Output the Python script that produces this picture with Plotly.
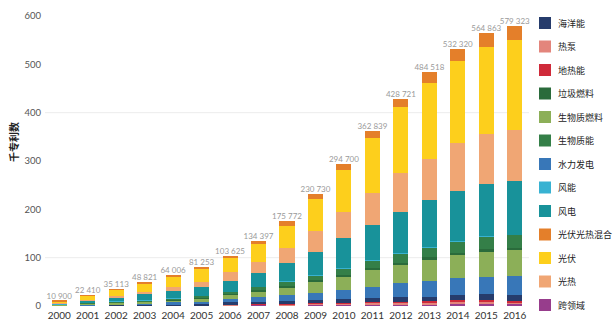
import plotly.graph_objects as go

# Years on the x axis
years = [str(y) for y in range(2000, 2017)]

# Patent counts per technology, in thousands (stacked bottom to top)
cross_domain = [0.15, 0.3, 0.5, 0.6, 0.8, 0.8, 1.6, 2.2, 2.0, 2.8, 2.8, 3.6, 3.6, 4.0, 4.8, 4.8, 4.4]
heat_pump = [0.12, 0.25, 0.35, 0.45, 0.6, 0.6, 1.2, 1.6, 1.5, 2.1, 2.1, 2.7, 2.7, 3.0, 3.6, 3.6, 3.3]
geothermal = [0.13, 0.25, 0.35, 0.45, 0.6, 0.6, 1.2, 1.7, 1.5, 2.1, 2.1, 2.7, 2.7, 3.0, 3.6, 3.6, 3.3]
ocean = [0.3, 0.7, 1.0, 1.5, 2.0, 2.0, 3.6, 3.5, 4.5, 5.5, 7.0, 7.0, 9.0, 9.0, 10.0, 12.0, 12.0]
hydro = [0.6, 1.2, 1.8, 2.5, 3.6, 5.0, 6.0, 10.0, 13.5, 15.0, 19.0, 24.0, 29.0, 33.0, 36.0, 36.0, 40.0]
biofuel = [1.3, 1.6, 2.5, 3.5, 4.8, 7.0, 11.0, 12.0, 16.0, 24.0, 28.0, 34.5, 38.0, 45.0, 48.0, 52.0, 52.0]
waste_fuel = [0.3, 0.4, 0.5, 0.5, 0.6, 0.8, 0.8, 1.5, 2.0, 2.0, 3.0, 3.5, 4.0, 4.0, 4.5, 5.0, 5.0]
biomass = [1.2, 1.8, 2.5, 2.9, 3.0, 4.2, 4.2, 7.5, 10.0, 10.0, 14.0, 17.0, 20.0, 20.0, 23.5, 26.0, 27.0]
wind_energy = [0.05, 0.1, 0.1, 0.1, 0.2, 0.2, 0.3, 0.3, 0.4, 0.5, 0.6, 0.7, 0.8, 0.8, 0.8, 0.9, 0.9]
wind_power = [1.95, 4.9, 8.9, 13.5, 15.5, 18.8, 22.7, 27.3, 36.6, 48.0, 61.4, 72.0, 85.2, 97.2, 103.2, 109.1, 111.1]
solar_thermal = [1.2, 1.5, 3.0, 4.0, 8.3, 10.0, 18.5, 24.0, 32.0, 43.5, 55.0, 67.0, 80.0, 86.0, 99.0, 103.0, 105.0]
photovoltaic = [3.0, 8.51, 12.513, 17.021, 19.006, 26.253, 27.525, 35.797, 45.772, 65.23, 85.7, 113.639,
                135.721, 156.518, 169.32, 180.863, 186.323]
pv_thermal = [0.6, 0.9, 1.1, 1.8, 5.0, 5.0, 5.0, 7.0, 10.0, 10.0, 14.0, 14.5, 18.0, 23.0, 26.0, 28.0, 29.0]

# Axis ticks and the two visible grid lines
y_ticks = [0, 100, 200, 300, 400, 500, 600]
grid_lines = [100, 400]

# (name, values, colour) in stacking order, bottom first
stack = [
    ("跨领域", cross_domain, "#973d8c"),
    ("热泵", heat_pump, "#e3857c"),
    ("地热能", geothermal, "#cf2a3a"),
    ("海洋能", ocean, "#263c6c"),
    ("水力发电", hydro, "#3877b8"),
    ("生物质燃料", biofuel, "#8caf58"),
    ("垃圾燃料", waste_fuel, "#2a6b3b"),
    ("生物质能", biomass, "#347f48"),
    ("风能", wind_energy, "#38b2d2"),
    ("风电", wind_power, "#18929a"),
    ("光热", solar_thermal, "#f0a674"),
    ("光伏", photovoltaic, "#fdcf1c"),
    ("光伏光热混合", pv_thermal, "#e47f2a"),
]

# Legend order, top to bottom
legend_order = ["海洋能", "热泵", "地热能", "垃圾燃料", "生物质燃料", "生物质能", "水力发电",
                "风能", "风电", "光伏光热混合", "光伏", "光热", "跨领域"]

fig = go.Figure()
for name, vals, col in stack:
    fig.add_trace(go.Bar(x=years, y=vals, name=name, marker=dict(color=col, line=dict(width=0)),
                         showlegend=False, hoverinfo="x+y+name"))

# Totals above each bar
totals = [sum(v[i] for _, v, _ in stack) for i in range(len(years))]
labels = [f"{round(t * 1000):,}".replace(",", " ") for t in totals]
fig.add_trace(go.Scatter(x=years, y=totals, mode="text", text=labels, textposition="top center",
                         textfont=dict(family="Lato", size=8, color="#9a9a9a"),
                         showlegend=False, hoverinfo="skip", cliponaxis=False))

# Plot area in pixels
L, R, T, B = 45, 85, 16, 18
W, H = 614, 324
pw, ph = W - L - R, H - T - B

shapes = []
for g in grid_lines:
    shapes.append(dict(type="line", xref="paper", yref="y", x0=0, x1=1, y0=g, y1=g,
                       line=dict(color="#ececec", width=1), layer="below"))

annotations = []
colour_of = {n: c for n, _, c in stack}
for i, name in enumerate(legend_order):
    cy = 23 + i * 23.5
    x0 = (539 - L) / pw
    x1 = (551 - L) / pw
    y0 = (H - B - (cy + 6)) / ph
    y1 = (H - B - (cy - 6)) / ph
    shapes.append(dict(type="rect", xref="paper", yref="paper", x0=x0, x1=x1, y0=y0, y1=y1,
                       fillcolor=colour_of[name], line=dict(width=0)))
    annotations.append(dict(text=name, xref="paper", yref="paper", x=(556 - L) / pw,
                            y=(H - B - cy) / ph, xanchor="left", yanchor="middle", showarrow=False,
                            font=dict(family="Noto Sans CJK SC", size=9, color="#222222")))

annotations.append(dict(text="<b>千专利数</b>", xref="paper", yref="paper", x=(13 - L) / pw,
                        y=(H - B - 142) / ph, xanchor="center", yanchor="middle", textangle=-90,
                        showarrow=False,
                        font=dict(family="Noto Sans CJK SC", size=10, color="#222222")))

fig.update_layout(
    width=W, height=H,
    margin=dict(l=L, r=R, t=T, b=B, pad=0, autoexpand=False),
    barmode="stack", bargap=0.47,
    plot_bgcolor="white", paper_bgcolor="white",
    showlegend=False,
    shapes=shapes, annotations=annotations,
    xaxis=dict(type="category", showgrid=False, showline=False, ticks="", zeroline=False,
               automargin=False, range=[-0.5, len(years) - 0.5], ticklabelstandoff=2,
               tickfont=dict(family="Lato", size=10, color="#333333")),
    yaxis=dict(range=[0, 600], tickvals=y_ticks, showgrid=False, zeroline=False, showline=False,
               automargin=False, ticks="", ticklabelstandoff=3,
               tickfont=dict(family="Lato", size=9.5, color="#555555")),
)

fig.write_html("out.html")
